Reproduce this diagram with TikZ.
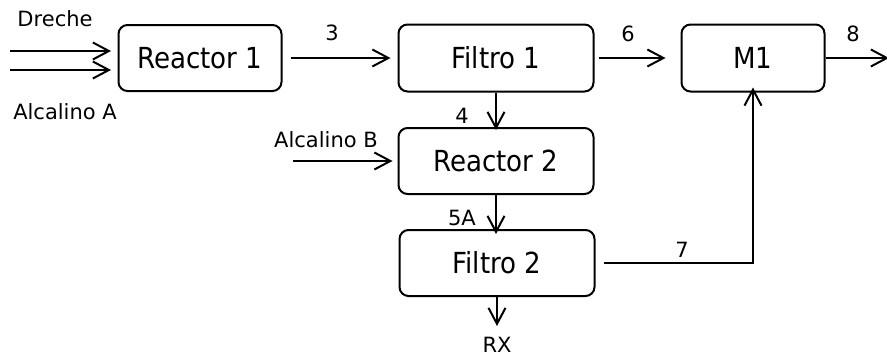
\documentclass[tikz,border=0pt]{standalone}
\usepackage{fontspec}
\setmainfont{DejaVu Sans}
\newfontfamily\boxfont{DejaVu Sans Condensed}
\usetikzlibrary{arrows.meta}
\begin{document}
\begin{tikzpicture}[x=1pt,y=-1pt,
  blk/.style={draw,line width=2pt,rounded corners=9pt,inner sep=0pt,font=\boxfont\fontsize{29}{33}\selectfont},
  lbl/.style={font=\fontsize{21}{25}\selectfont,inner sep=0pt},
  flow/.style={line width=2pt,-{Straight Barb[length=16pt,width=17pt,line width=2pt]}}]
\useasboundingbox (0,0) rectangle (887,356);
\node[blk,minimum width=163pt,minimum height=66pt] (r1) at (200,58) {Reactor 1};
\node[blk,minimum width=195pt,minimum height=67pt] (f1) at (496,58) {Filtro 1};
\node[blk,minimum width=143pt,minimum height=67pt] (m1) at (753,58) {M1};
\node[blk,minimum width=195pt,minimum height=66pt] (r2) at (496,161) {Reactor 2};
\node[blk,minimum width=195pt,minimum height=66pt] (f2) at (497,263) {Filtro 2};
\coordinate (d0) at (10,51);
\coordinate (d1) at (111,51);
\coordinate (a0) at (10,70);
\coordinate (a1) at (111,70);
\coordinate (b0) at (293,161);
\coordinate (o8) at (889,58);
\coordinate (rx) at (497,326);
\coordinate (k7) at (753,263);
\draw[flow] (d0) -- (d1);
\draw[flow] (a0) -- (a1);
\node[lbl] (ld) at (55,19) {Dreche};
\node[lbl] (la) at (65,112) {Alcalino A};
\draw[flow] ([xshift=8pt]r1.east) -- ([xshift=-7pt]f1.west);
\node[lbl] (l3) at (332,33) {3};
\draw[flow] ([xshift=4pt]f1.east) -- ([xshift=-15pt]m1.west);
\node[lbl] (l6) at (628,34) {6};
\draw[flow] (m1.east) -- (o8);
\node[lbl] (l8) at (853,34) {8};
\draw[flow] (f1.south) -- ([yshift=-3pt]r2.north);
\node[lbl] (l4) at (462,116) {4};
\draw[flow] (b0) -- ([xshift=-5pt]r2.west);
\node[lbl] (lb) at (326,140) {Alcalino B};
\draw[flow] (r2.south) -- ([yshift=-5pt]r2.south |- f2.north);
\node[lbl] (l5) at (462,218) {5A};
\draw[flow] (f2.south) -- (rx);
\node[lbl] (lrx) at (497,345) {RX};
\draw[flow,line join=miter] ([xshift=8pt]f2.east) -- (k7) -- ([yshift=5pt]m1.south -| k7);
\node[lbl] (l7) at (682,250) {7};
\end{tikzpicture}
\end{document}
